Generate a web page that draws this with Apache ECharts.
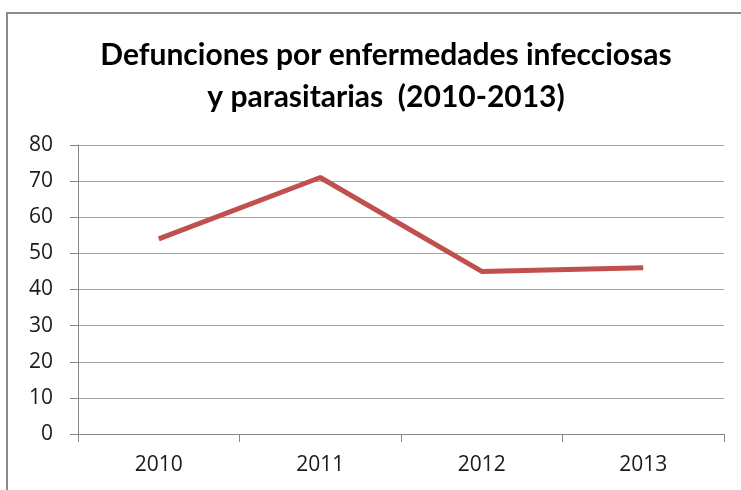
<!DOCTYPE html>
<html><head><meta charset="utf-8">
<script src="https://cdn.jsdelivr.net/npm/echarts@6/dist/echarts.min.js"></script>
<style>html,body{margin:0;padding:0;background:#fff}#c{width:741px;height:490px}</style>
</head><body><div id="c"></div>
<script>
const categories = ['2010', '2011', '2012', '2013'];
const deaths = [54, 71, 45, 46];
const titleText = 'Defunciones por enfermedades infecciosas\ny parasitarias  (2010-2013)';

const chart = echarts.init(document.getElementById('c'));
chart.setOption({
  animation: false,
  backgroundColor: '#fff',
  graphic: [{
    type: 'rect', shape: {x: 7, y: 13, width: 800, height: 600},
    style: {fill: 'none', stroke: '#8c8c8c', lineWidth: 2}, silent: true, z: -1
  }],
  title: {
    text: titleText, left: 381, textAlign: 'center', top: 29,
    textStyle: {fontFamily: 'Lato', fontWeight: 'bold', fontSize: 30, lineHeight: 42, color: '#000'}
  },
  grid: {left: 78, right: 17, top: 145, bottom: 56, containLabel: false},
  xAxis: {
    type: 'category', data: categories, boundaryGap: true,
    axisLine: {lineStyle: {color: '#868686', width: 1}},
    axisTick: {show: true, length: 8, lineStyle: {color: '#868686'}},
    axisLabel: {fontFamily: 'Open Sans', fontSize: 21, color: '#1a1a1a', margin: 21}
  },
  yAxis: {
    type: 'value', min: 0, max: 80, interval: 10,
    axisLine: {show: true, lineStyle: {color: '#868686', width: 1}},
    axisTick: {show: true, length: 8, lineStyle: {color: '#868686'}},
    splitLine: {lineStyle: {color: '#a6a6a6', width: 1}},
    axisLabel: {fontFamily: 'Open Sans', fontSize: 21, color: '#1a1a1a', margin: 25}
  },
  series: [{
    type: 'line', data: deaths, symbol: 'none',
    lineStyle: {color: '#c0504d', width: 5}
  }]
});
</script></body></html>
